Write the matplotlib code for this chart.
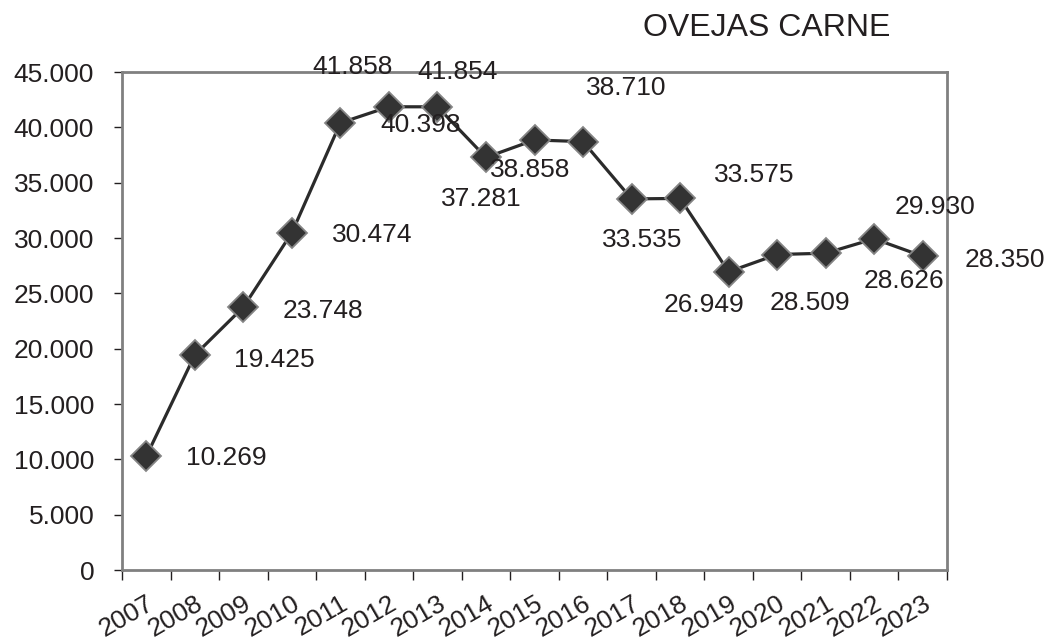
import matplotlib
matplotlib.use("Agg")
import matplotlib.pyplot as plt
from matplotlib.ticker import FixedLocator, FuncFormatter

plt.rcParams['font.family'] = ['Liberation Sans', 'DejaVu Sans']

years = ["2007", "2008", "2009", "2010", "2011", "2012", "2013", "2014", "2015",
         "2016", "2017", "2018", "2019", "2020", "2021", "2022", "2023"]
values = [10269, 19425, 23748, 30474, 40398, 41858, 41854, 37281, 38858,
          38710, 33535, 33575, 26949, 28509, 28626, 29930, 28350]
labels = ["10.269", "19.425", "23.748", "30.474", "40.398", "41.858", "41.854", "37.281", "38.858",
          "38.710", "33.535", "33.575", "26.949", "28.509", "28.626", "29.930", "28.350"]
# label centre offsets from the point, pixels (x right, y down)
label_offsets = [(80, -1), (80, 2), (80, 1), (80, 0), (80, 0), (-36.5, -42), (20, -37),
                 (-5, 39), (-4, 27.5), (43.5, -56.6), (11, 39), (74.5, -26.4),
                 (-25, 31), (32.5, 45.5), (78, 25), (60.5, -34), (82, 1)]
yticks = [0, 5000, 10000, 15000, 20000, 25000, 30000, 35000, 40000, 45000]
title = "OVEJAS CARNE"

txt = '#231f20'
fig = plt.figure(figsize=(10.5, 6.4), dpi=100)
ax = fig.add_axes([122/1050, 1-570/640, (947-122)/1050, (570-72)/640])

x = list(range(len(years)))
ax.plot(x, values, color='#2b2b2b', lw=2.3, marker='D', ms=15.5,
        markerfacecolor='#333333', markeredgecolor='#858585', markeredgewidth=1.3,
        zorder=3, clip_on=False)

for xi, v, lab, (dx, dy) in zip(x, values, labels, label_offsets):
    ax.annotate(lab, xy=(xi, v), xytext=(dx, -(dy + 9.5)), textcoords='offset pixels',
                ha='center', va='baseline', fontsize=19, color=txt, zorder=4,
                annotation_clip=False)

ax.set_xlim(-0.5, len(years) - 0.5)
ax.set_ylim(0, 45000)
ax.set_yticks(yticks)
ax.yaxis.set_major_formatter(FuncFormatter(lambda v, p: f"{v:,.0f}".replace(',', '.')))
ax.set_xticks(x)
ax.set_xticklabels(years, rotation=30, ha='right', va='top', rotation_mode='anchor')
ax.xaxis.set_minor_locator(FixedLocator([i - 0.5 for i in range(len(years) + 1)]))
ax.tick_params(axis='x', which='major', length=0, pad=15, labelsize=19, labelcolor=txt)
ax.tick_params(axis='x', which='minor', length=7, width=1, color='#231f20')
ax.tick_params(axis='y', length=6, width=1, color='#231f20', pad=14, labelsize=19, labelcolor=txt)

for s in ax.spines.values():
    s.set_color('#808080')
    s.set_linewidth(2)

fig.text(767/1050, 1-28/640, title, ha='center', va='center', fontsize=23, color=txt)

fig.savefig("out.png", dpi=100)
